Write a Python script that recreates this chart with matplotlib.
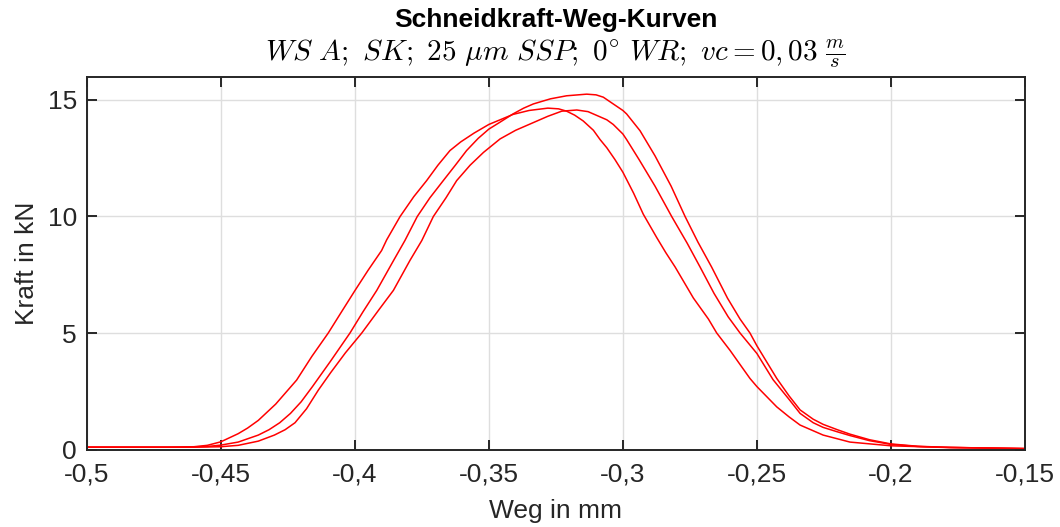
import numpy as np
import matplotlib
matplotlib.use("Agg")
from matplotlib import pyplot as plt

plt.rcParams['font.family'] = ['Liberation Sans', 'DejaVu Sans']
plt.rcParams['mathtext.fontset'] = 'cm'

# Messkurven: Weg in mm, Kraft in kN (drei Versuche)
weg_1 = [-0.500, -0.470, -0.460, -0.455, -0.450, -0.4435, -0.440, -0.436, -0.4295,
         -0.4217, -0.416, -0.4099, -0.405, -0.3999, -0.395, -0.390, -0.3881, -0.3831,
         -0.378, -0.3732, -0.369, -0.3645, -0.3605, -0.3555, -0.350, -0.3458, -0.341,
         -0.335, -0.328, -0.324, -0.321, -0.318, -0.3148, -0.311, -0.3085, -0.306,
         -0.303, -0.300, -0.296, -0.2924, -0.2874, -0.284, -0.2805, -0.2737, -0.2681,
         -0.265, -0.260, -0.256, -0.2526, -0.250, -0.2426, -0.238, -0.2339, -0.2253,
         -0.2153, -0.200, -0.180, -0.150]
kraft_1 = [0.10, 0.10, 0.12, 0.18, 0.33, 0.68, 0.92, 1.25, 1.95,
           2.98, 4.0, 5.0, 5.9, 6.83, 7.7, 8.54, 9.0, 10.0,
           10.85, 11.54, 12.2, 12.83, 13.2, 13.58, 13.95, 14.15, 14.38,
           14.55, 14.65, 14.62, 14.52, 14.35, 14.1, 13.7, 13.3, 12.95,
           12.45, 11.9, 11.0, 10.1, 9.1, 8.45, 7.83, 6.5, 5.6,
           5.0, 4.25, 3.6, 3.05, 2.7, 1.83, 1.4, 1.05, 0.62,
           0.32, 0.16, 0.09, 0.04]

weg_2 = [-0.500, -0.465, -0.455, -0.450, -0.4435, -0.436, -0.432, -0.428, -0.424,
         -0.420, -0.4158, -0.409, -0.4018, -0.397, -0.3918, -0.3856, -0.3813, -0.3767,
         -0.372, -0.367, -0.3625, -0.3583, -0.354, -0.350, -0.3458, -0.341, -0.337,
         -0.3334, -0.327, -0.321, -0.3135, -0.310, -0.3073, -0.3036, -0.300, -0.2986,
         -0.2936, -0.288, -0.282, -0.2768, -0.272, -0.2669, -0.261, -0.2563, -0.2526,
         -0.250, -0.2426, -0.238, -0.2339, -0.229, -0.2253, -0.220, -0.2153, -0.208,
         -0.200, -0.190, -0.178, -0.150]
kraft_2 = [0.10, 0.10, 0.13, 0.19, 0.32, 0.62, 0.85, 1.15, 1.55,
           2.05, 2.7, 3.8, 5.0, 5.9, 6.83, 8.1, 8.97, 10.0,
           10.8, 11.54, 12.2, 12.83, 13.35, 13.75, 14.05, 14.4, 14.65,
           14.83, 15.05, 15.18, 15.25, 15.22, 15.12, 14.83, 14.55, 14.4,
           13.68, 12.6, 11.3, 10.0, 8.9, 7.83, 6.5, 5.6, 5.0,
           4.45, 3.05, 2.3, 1.7, 1.3, 1.08, 0.85, 0.66, 0.42,
           0.24, 0.14, 0.09, 0.04]

weg_3 = [-0.500, -0.460, -0.450, -0.4435, -0.436, -0.430, -0.426, -0.4223, -0.418,
         -0.4136, -0.409, -0.4035, -0.3974, -0.391, -0.3856, -0.3794, -0.375, -0.3707,
         -0.366, -0.362, -0.357, -0.352, -0.3458, -0.340, -0.3346, -0.328, -0.3228,
         -0.3172, -0.313, -0.310, -0.306, -0.3036, -0.300, -0.2986, -0.294, -0.288,
         -0.2818, -0.276, -0.2712, -0.266, -0.2607, -0.2563, -0.250, -0.244, -0.238,
         -0.2339, -0.229, -0.2253, -0.220, -0.2153, -0.208, -0.200, -0.190, -0.178,
         -0.150]
kraft_3 = [0.10, 0.10, 0.12, 0.18, 0.36, 0.62, 0.85, 1.15, 1.75,
           2.55, 3.3, 4.15, 5.0, 6.0, 6.83, 8.12, 8.97, 10.0,
           10.8, 11.54, 12.2, 12.75, 13.33, 13.7, 13.97, 14.3, 14.52,
           14.57, 14.5, 14.35, 14.15, 13.95, 13.54, 13.3, 12.45, 11.3,
           10.0, 8.85, 7.83, 6.7, 5.69, 5.0, 4.12, 3.0, 2.15,
           1.55, 1.15, 0.95, 0.76, 0.6, 0.38, 0.22, 0.13, 0.09,
           0.04]

x_ticks = [-0.5, -0.45, -0.4, -0.35, -0.3, -0.25, -0.2, -0.15]
x_ticklabels = ['-0,5', '-0,45', '-0,4', '-0,35', '-0,3', '-0,25', '-0,2', '-0,15']
y_ticks = [0, 5, 10, 15]

dark = '#262626'

fig = plt.figure(figsize=(10.6, 5.27), dpi=100)
ax = fig.add_axes([0.0818, 0.147, 0.8852, 0.7075])

for w, k in [(weg_1, kraft_1), (weg_2, kraft_2), (weg_3, kraft_3)]:
    ax.plot(w, k, color='#ff0000', lw=1.1)

ax.set_xlim(-0.5, -0.15)
ax.set_ylim(0, 16)
ax.set_xticks(x_ticks)
ax.set_xticklabels(x_ticklabels)
ax.set_yticks(y_ticks)
ax.grid(True, color='#dedede', lw=1.0)
ax.set_axisbelow(True)
ax.tick_params(direction='in', length=7, width=1.4, top=True, right=True,
               labelsize=19, colors=dark)
ax.tick_params(axis='x', pad=9)
ax.tick_params(axis='y', pad=7)
for s in ax.spines.values():
    s.set_color(dark)
    s.set_linewidth(1.4)

ax.set_xlabel('Weg in mm', fontsize=19, color=dark, labelpad=9)
ax.set_ylabel('Kraft in kN', fontsize=19, color=dark, labelpad=6)

fig.text(0.524, 0.962, 'Schneidkraft-Weg-Kurven', ha='center', va='center',
         fontsize=19, fontweight='bold', color='black')
fig.text(0.524, 0.898,
         r'$WS\ A;\ SK;\ 25\ \mu m\ SSP;\ 0^{\circ}\ WR;\ vc = 0,03\ \frac{m}{s}$',
         ha='center', va='center', fontsize=21, color='black')

plt.savefig('out.png', dpi=100)
